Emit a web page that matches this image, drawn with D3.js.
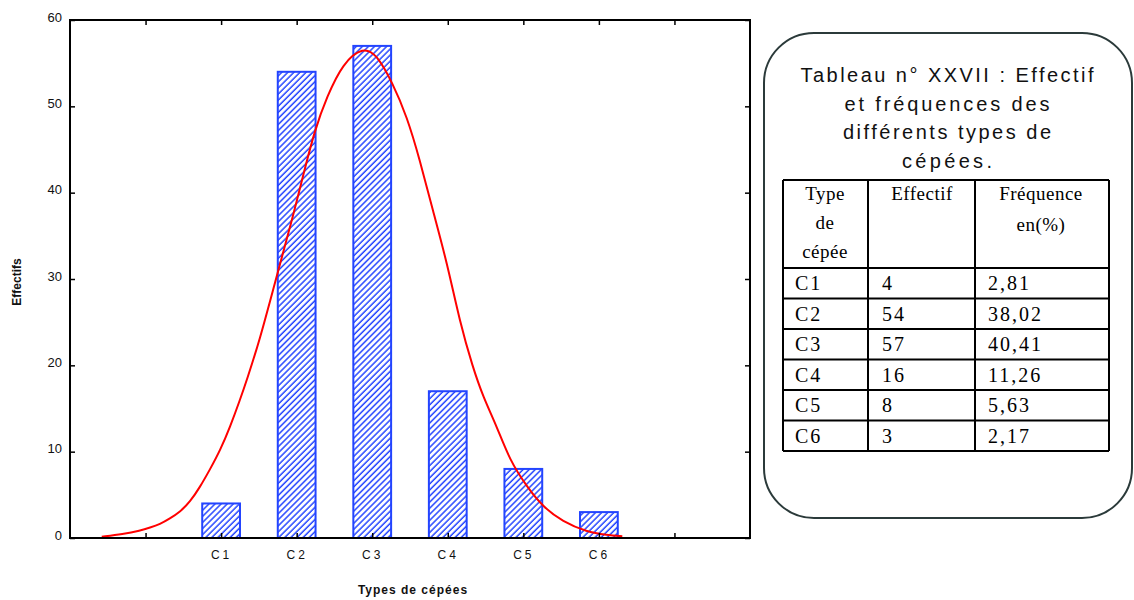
<!DOCTYPE html>
<html>
<head>
<meta charset="utf-8">
<script src="https://cdn.jsdelivr.net/npm/d3@7"></script>
<style>
  body { margin: 0; background: #fff; }
  svg { display: block; }
</style>
</head>
<body>
<svg id="chart" width="1134" height="600"></svg>
<script>
// bar chart values
var categories = ["C1", "C2", "C3", "C4", "C5", "C6"];
var catPos = [2, 3, 4, 5, 6, 7];
var barValues = [4, 54, 57, 17, 8, 3];

// fitted curve, points
var curveX = [0.42, 0.70, 0.93, 1.06, 1.19, 1.32, 1.46, 1.59, 1.72, 1.85, 1.99, 2.12, 2.25, 2.34, 2.51,
              2.71, 2.95, 3.08, 3.24, 3.40, 3.61, 3.88, 4.06, 4.27, 4.46, 4.63, 4.80, 4.99, 5.16, 5.33,
              5.47, 5.65, 5.82, 6.05, 6.26, 6.52, 6.84, 7.11, 7.31];
var curveY = [0.15, 0.45, 0.85, 1.2, 1.6, 2.25, 3.05, 4.2, 5.9, 7.9, 10.2, 12.9, 16.0, 18.3, 22.9,
              29.5, 37.2, 41.8, 47.3, 51.1, 55.0, 56.9, 56.0, 52.7, 48.8, 43.8, 38.0, 31.9, 25.0, 19.8,
              16.3, 12.9, 9.0, 5.9, 3.6, 1.9, 0.7, 0.35, 0.2];

var yTicks = [0, 10, 20, 30, 40, 50, 60];
var xTicks = [1, 2, 3, 4, 5, 6, 7, 8];

// table values
var titleLines = ["Tableau n° XXVII : Effectif", "et fréquences des", "différents types de", "cépées."];
var tableTypes = ["C1", "C2", "C3", "C4", "C5", "C6"];
var tableEffectifs = ["4", "54", "57", "16", "8", "3"];
var tableFrequences = ["2,81", "38,02", "40,41", "11,26", "5,63", "2,17"];

var svg = d3.select("#chart");
var blue = "#2344ff";

var defs = svg.append("defs");
var pat = defs.append("pattern")
    .attr("id", "hatch")
    .attr("patternUnits", "userSpaceOnUse")
    .attr("width", 4.3)
    .attr("height", 4.3)
    .attr("patternTransform", "rotate(45)");
pat.append("rect").attr("width", 4.3).attr("height", 4.3).attr("fill", "#fff");
pat.append("line")
    .attr("x1", 1).attr("y1", 0).attr("x2", 1).attr("y2", 4.3)
    .attr("stroke", blue).attr("stroke-width", 1.5);

var plotL = 70, plotR = 750, plotT = 20, plotB = 538;

var x = d3.scaleLinear().domain([0, 9]).range([plotL, plotR]);
var y = d3.scaleLinear().domain([0, 60]).range([plotB, plotT]);

// bars
var bw = x(0.5) - x(0);
svg.append("g").selectAll("rect")
    .data(barValues)
    .enter().append("rect")
    .attr("x", function(d, i) { return x(catPos[i]) - bw / 2; })
    .attr("y", function(d) { return y(d); })
    .attr("width", bw)
    .attr("height", function(d) { return y(0) - y(d); })
    .attr("fill", "url(#hatch)")
    .attr("stroke", blue)
    .attr("stroke-width", 2);

// red curve
var pts = curveX.map(function(d, i) { return [d, curveY[i]]; });
var line = d3.line()
    .x(function(d) { return x(d[0]); })
    .y(function(d) { return y(d[1]); })
    .curve(d3.curveBasis);
svg.append("path")
    .datum(pts)
    .attr("d", line)
    .attr("fill", "none")
    .attr("stroke", "#ff0000")
    .attr("stroke-width", 2);

// axes (inward ticks)
var yAxis = svg.append("g")
    .attr("transform", "translate(" + plotL + ",0)")
    .call(d3.axisLeft(y).tickValues(yTicks).tickSize(-5).tickPadding(8));
svg.append("g")
    .attr("transform", "translate(" + plotR + ",0)")
    .call(d3.axisRight(y).tickValues(yTicks).tickSize(-5).tickFormat(""));
svg.append("g")
    .attr("transform", "translate(0," + plotT + ")")
    .call(d3.axisTop(x).tickValues(xTicks).tickSize(-5).tickFormat(""));
var xAxis = svg.append("g")
    .attr("transform", "translate(0," + plotB + ")")
    .call(d3.axisBottom(x).tickValues(xTicks).tickSize(-5).tickPadding(12)
        .tickFormat(function(d) {
            var k = catPos.indexOf(d);
            return k >= 0 ? categories[k] : "";
        }));

svg.selectAll(".domain").remove();
svg.selectAll(".tick line").attr("stroke", "#000").attr("stroke-width", 1.5);
yAxis.selectAll("text")
    .attr("font-family", "Liberation Sans, Arial, sans-serif")
    .attr("font-size", 13)
    .attr("dy", "0.1em")
    .attr("fill", "#111");
xAxis.selectAll("text")
    .attr("font-family", "Liberation Sans, Arial, sans-serif")
    .attr("font-size", 12)
    .attr("letter-spacing", 3)
    .attr("fill", "#111");

// frame
svg.append("rect")
    .attr("x", plotL).attr("y", plotT)
    .attr("width", plotR - plotL).attr("height", plotB - plotT)
    .attr("fill", "none").attr("stroke", "#000").attr("stroke-width", 2);

// axis titles
svg.append("text")
    .attr("transform", "translate(21,282) rotate(-90)")
    .attr("text-anchor", "middle")
    .attr("font-family", "Liberation Sans, Arial, sans-serif")
    .attr("font-size", 12)
    .attr("font-weight", "bold")
    .attr("fill", "#111")
    .text("Effectifs");
svg.append("text")
    .attr("x", 413).attr("y", 594)
    .attr("text-anchor", "middle")
    .attr("font-family", "Liberation Sans, Arial, sans-serif")
    .attr("font-size", 12)
    .attr("font-weight", "bold")
    .attr("letter-spacing", 1)
    .attr("fill", "#111")
    .text("Types de cépées");

// right panel
svg.append("rect")
    .attr("x", 764).attr("y", 33)
    .attr("width", 368).attr("height", 485)
    .attr("rx", 50).attr("ry", 50)
    .attr("fill", "#fff")
    .attr("stroke", "#2b3a3a")
    .attr("stroke-width", 2);

var titleWidths = [293, 205, 208, 90];
svg.append("g").selectAll("text")
    .data(titleLines)
    .enter().append("text")
    .attr("x", 947)
    .attr("y", function(d, i) { return 82 + i * 28.5; })
    .attr("text-anchor", "middle")
    .attr("font-family", "Liberation Sans, Arial, sans-serif")
    .attr("font-size", 20)
    .attr("textLength", function(d, i) { return titleWidths[i]; })
    .attr("lengthAdjust", "spacing")
    .attr("fill", "#111")
    .text(function(d) { return d; });

// table grid
var cols = [783, 868, 975, 1109];
var headTop = 180, headBottom = 268, rowH = 30.5;
var tableBottom = headBottom + rowH * tableTypes.length;
var grid = svg.append("g").attr("stroke", "#000").attr("stroke-width", 2);
grid.selectAll("line.v")
    .data(cols)
    .enter().append("line")
    .attr("x1", function(d) { return d; }).attr("x2", function(d) { return d; })
    .attr("y1", headTop).attr("y2", tableBottom);
var hLines = [headTop, headBottom].concat(tableTypes.map(function(d, i) { return headBottom + rowH * (i + 1); }));
grid.selectAll("line.h")
    .data(hLines)
    .enter().append("line")
    .attr("x1", cols[0]).attr("x2", cols[3])
    .attr("y1", function(d) { return d; }).attr("y2", function(d) { return d; });

var serif = "Liberation Serif, Times New Roman, serif";
var head = svg.append("g")
    .attr("font-family", serif)
    .attr("font-size", 19)
    .attr("letter-spacing", 0.5)
    .attr("fill", "#000")
    .attr("text-anchor", "middle");
[["Type", 825, 200], ["de", 825, 229], ["cépée", 825, 258],
 ["Effectif", 922, 200], ["Fréquence", 1041, 200], ["en(%)", 1041, 231]].forEach(function(h) {
    head.append("text").attr("x", h[1]).attr("y", h[2]).text(h[0]);
});

var cellCols = [tableTypes, tableEffectifs, tableFrequences];
var cellX = [795, 882, 988];
cellCols.forEach(function(col, c) {
    svg.append("g").selectAll("text")
        .data(col)
        .enter().append("text")
        .attr("x", cellX[c])
        .attr("y", function(d, i) { return headBottom + rowH * i + rowH / 2 + 7; })
        .attr("font-family", serif)
        .attr("font-size", 20)
        .attr("letter-spacing", 2)
        .attr("fill", "#000")
        .text(function(d) { return d; });
});
</script>
</body>
</html>
